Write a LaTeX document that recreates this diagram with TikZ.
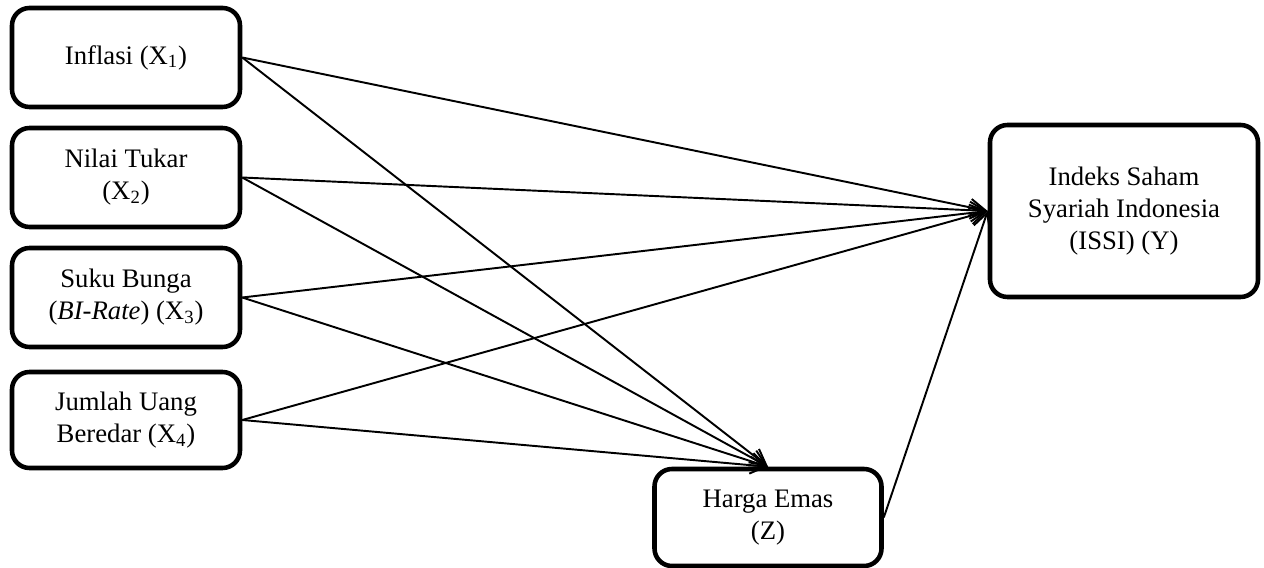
\documentclass[tikz,border=0pt]{standalone}
\usepackage{fontspec}
\setmainfont{Liberation Serif}
\usepackage{tikz}
\usetikzlibrary{arrows.meta}

\tikzset{
	varbox/.style={draw, line width=2.6pt, rounded corners=0.35cm, align=center, inner sep=0pt,
		font=\fontsize{15.2}{18.2}\selectfont},
	link/.style={line width=1.1pt, -{Straight Barb[length=3.2mm, width=3.4mm, line width=1.1pt]}}
}

\begin{document}
\begin{tikzpicture}[x=1cm, y=1cm]
	\useasboundingbox (0,0) rectangle (25.28,11.34);

	\node[varbox, minimum width=4.56cm, minimum height=1.98cm] (inflasi) at (2.52,10.19) {Inflasi (X\textsubscript{1})};
	\node[varbox, minimum width=4.56cm, minimum height=1.98cm] (kurs) at (2.52,7.79) {Nilai Tukar\\(X\textsubscript{2})};
	\node[varbox, minimum width=4.56cm, minimum height=1.98cm] (bunga) at (2.52,5.39) {Suku Bunga\\(\textit{BI-Rate}) (X\textsubscript{3})};
	\node[varbox, minimum width=4.56cm, minimum height=1.92cm] (uang) at (2.52,2.94) {Jumlah Uang\\Beredar (X\textsubscript{4})};
	\node[varbox, minimum width=4.54cm, minimum height=1.94cm] (emas) at (15.36,0.99) {Harga Emas\\(Z)};
	\node[varbox, minimum width=5.36cm, minimum height=3.44cm] (issi) at (22.48,7.12) {Indeks Saham\\Syariah Indonesia\\(ISSI) (Y)};

	\draw[link] (inflasi.east) -- (issi.west);
	\draw[link] (kurs.east) -- (issi.west);
	\draw[link] (bunga.east) -- (issi.west);
	\draw[link] (uang.east) -- (issi.west);

	\draw[link] (inflasi.east) -- (emas.north);
	\draw[link] (kurs.east) -- (emas.north);
	\draw[link] (bunga.east) -- (emas.north);
	\draw[link] (uang.east) -- (emas.north);

	\draw[link] (emas.east) -- (issi.west);

\end{tikzpicture}
\end{document}
